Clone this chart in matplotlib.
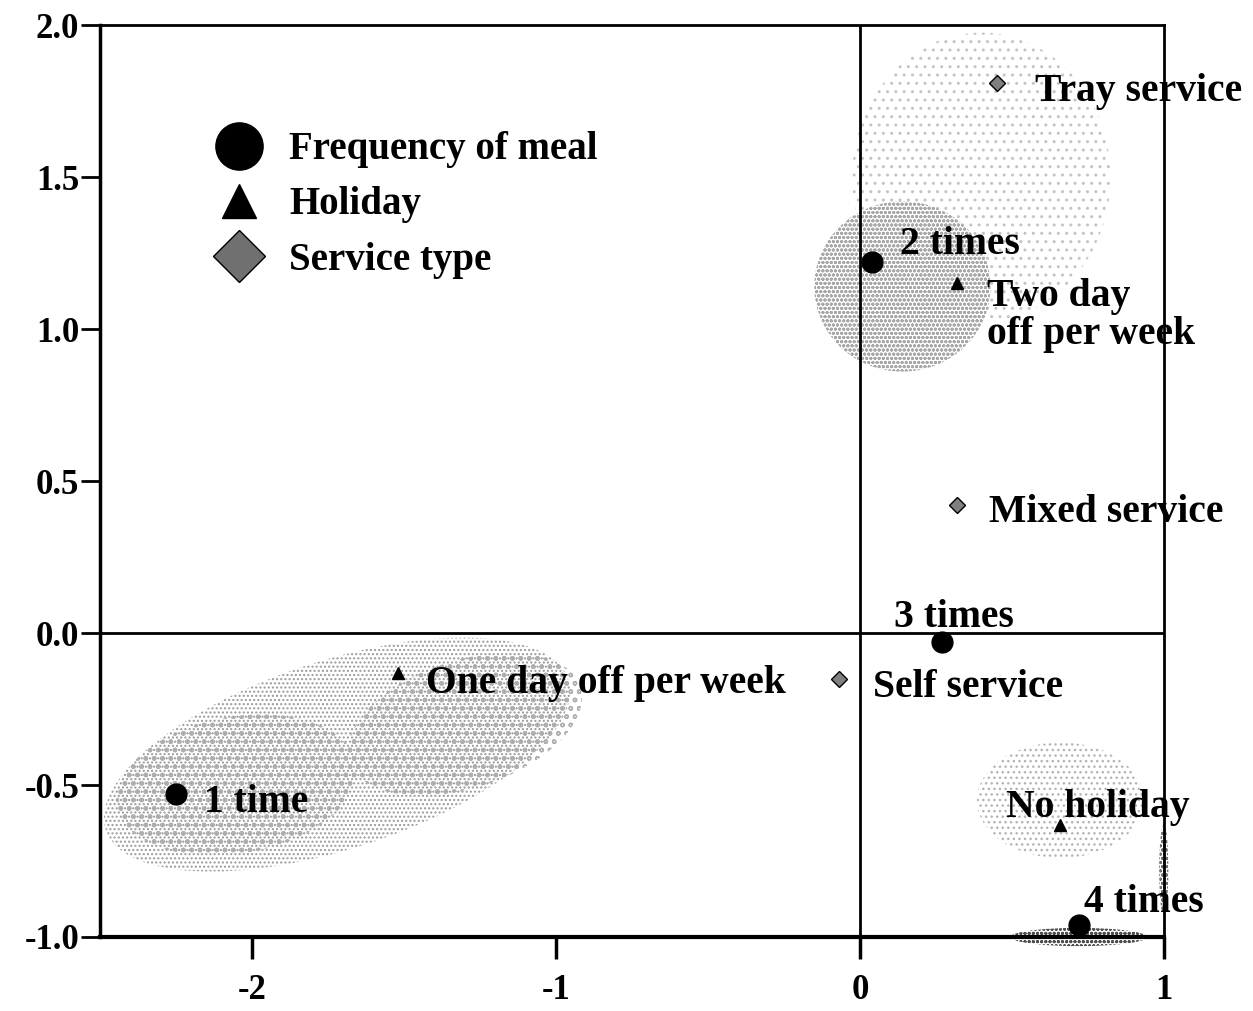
import matplotlib.pyplot as plt
from matplotlib.lines import Line2D
from matplotlib.patches import Ellipse

# category points (dimension 1, dimension 2)
meal_labels = ['1 time', '2 times', '3 times', '4 times']
meal_x = [-2.25, 0.04, 0.27, 0.72]
meal_y = [-0.53, 1.22, -0.03, -0.96]

holiday_labels = ['One day off per week', 'Two day\noff per week', 'No holiday']
holiday_x = [-1.52, 0.32, 0.66]
holiday_y = [-0.13, 1.15, -0.63]

service_labels = ['Tray service', 'Mixed service', 'Self service']
service_x = [0.45, 0.32, -0.07]
service_y = [1.81, 0.42, -0.15]

x_ticks = [-2, -1, 0, 1]
y_ticks = [-1.0, -0.5, 0.0, 0.5, 1.0, 1.5, 2.0]

# label offsets in pixels (layout only)
meal_off = [(28, -8), (28, 18), (-48, 25), (5, 22)]
holiday_off = [(28, -11), (30, -32), (-54, 17)]
service_off = [(38, -9), (32, -7), (34, -9)]

plt.rcParams['font.family'] = ['Liberation Serif', 'DejaVu Serif']
plt.rcParams['font.weight'] = 'bold'
plt.rcParams['hatch.linewidth'] = 1.0

fig = plt.figure(figsize=(12.53, 10.11), dpi=100)
ax = fig.add_axes([0.0798, 0.0732, 0.849, 0.902])

# stippled clusters
clusters = [
    # (cx, cy, w, h, angle, hatch, color)
    (-1.72, -0.40, 1.60, 0.62, 18, '....', '#9a9a9a'),
    (-2.05, -0.50, 0.80, 0.45, 10, 'oo', '#b0b0b0'),
    (-1.30, -0.30, 0.80, 0.42, 18, 'oo', '#b0b0b0'),
    (0.40, 1.50, 0.85, 0.95, 0, '..', '#c4c4c4'),
    (0.14, 1.14, 0.58, 0.56, 0, 'oooo', '#a8a8a8'),
    (0.66, -0.55, 0.55, 0.38, 0, '...', '#b4b4b4'),
    (0.72, -1.00, 0.45, 0.06, 0, 'oooo', '#505050'),
    (1.00, -0.78, 0.03, 0.30, 0, 'oooo', '#707070'),
]
for cx, cy, w, h, ang, hatch, col in clusters:
    ax.add_patch(Ellipse((cx, cy), w, h, angle=ang, facecolor='none',
                         edgecolor=col, hatch=hatch, linewidth=0, zorder=1,
                         clip_on=False))

ax.axhline(0, color='black', lw=2, zorder=2)
ax.axvline(0, color='black', lw=2, zorder=2)

ax.plot(meal_x, meal_y, 'o', color='black', ms=15, zorder=4)
ax.plot(holiday_x, holiday_y, '^', color='black', ms=8, zorder=4)
ax.plot(service_x, service_y, 'D', mfc='#808080', mec='black', ms=8,
        zorder=4)

for labels, xs, ys, offs in [(meal_labels, meal_x, meal_y, meal_off),
                             (holiday_labels, holiday_x, holiday_y, holiday_off),
                             (service_labels, service_x, service_y, service_off)]:
    for lab, x, y, off in zip(labels, xs, ys, offs):
        ax.annotate(lab, (x, y), xytext=off, textcoords='offset pixels',
                    fontsize=28.5, fontweight='bold', va='center', ha='left',
                    linespacing=1.05, zorder=5, annotation_clip=False)

handles = [Line2D([], [], marker='o', ls='', color='black', ms=34),
           Line2D([], [], marker='^', ls='', color='black', ms=24),
           Line2D([], [], marker='D', ls='', mfc='#707070', mec='black', ms=26)]
ax.legend(handles, ['Frequency of meal', 'Holiday', 'Service type'],
          loc='upper left', bbox_to_anchor=(0.072, 0.922), frameon=False,
          fontsize=28, handletextpad=0.6, labelspacing=0.47, handlelength=1.4)

ax.set_xlim(-2.5, 1)
ax.set_ylim(-1, 2)
ax.set_xticks(x_ticks)
ax.set_xticklabels([str(t) for t in x_ticks])
ax.set_yticks(y_ticks)
ax.set_yticklabels([f'{t:.1f}' for t in y_ticks])
ax.tick_params(axis='x', direction='out', length=16, width=2.5, labelsize=25,
               pad=11)
ax.tick_params(axis='y', direction='out', length=14, width=2, labelsize=25,
               pad=1)
for s in ax.spines.values():
    s.set_linewidth(2)
ax.spines['bottom'].set_linewidth(3)
ax.spines['left'].set_linewidth(2.5)

fig.savefig('out.png', dpi=100)
